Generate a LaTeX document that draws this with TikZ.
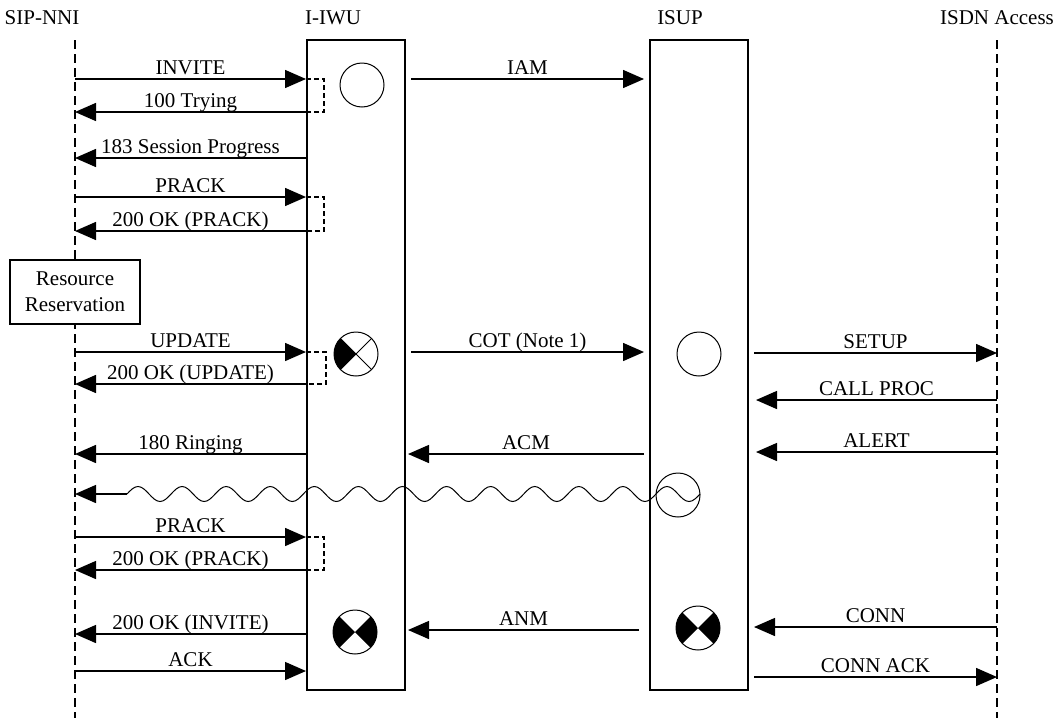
\documentclass[tikz,border=0pt]{standalone}
\usepackage{fontspec}
\setmainfont{Liberation Serif}
\usetikzlibrary{arrows.meta}
\begin{document}
\begin{tikzpicture}[x=1pt,y=-1pt,font=\fontsize{21}{26}\selectfont,
  life/.style={line width=1.5pt,dash pattern=on 9pt off 5pt},
  lane/.style={draw,line width=2pt,minimum width=98pt,minimum height=650pt,inner sep=0pt},
  msg/.style={line width=1.5pt,-{Triangle[length=21pt,width=18pt]}},
  lbl/.style={midway,anchor=base,yshift=5pt,inner sep=0pt},
  brk/.style={line width=1.5pt,dash pattern=on 5pt off 3pt},
  sym/.style={draw,circle,line width=1pt,minimum size=44pt,inner sep=0pt,fill=white},
  xhalf/.style={sym,path picture={
    \fill[black] (path picture bounding box.center) -- (path picture bounding box.north west) -- (path picture bounding box.south west) -- cycle;
    \draw[black] (path picture bounding box.north west) -- (path picture bounding box.south east)
          (path picture bounding box.south west) -- (path picture bounding box.north east);}},
  bowtie/.style={sym,path picture={
    \fill[black] (path picture bounding box.center) -- (path picture bounding box.north west) -- (path picture bounding box.south west) -- cycle
          (path picture bounding box.center) -- (path picture bounding box.north east) -- (path picture bounding box.south east) -- cycle;}}]
\useasboundingbox (0,0) rectangle (1062,718);

\node (hsip) at (42,18) {SIP-NNI};
\node (hiwu) at (333,18) {I-IWU};
\node (hisup) at (680,18) {ISUP};
\node (hisdn) at (997,18) {ISDN Access};

\coordinate (sip) at (75,40);
\coordinate (isdn) at (997,40);
\draw[life] (sip) -- (sip |- 0,718);
\draw[life] (isdn) -- (isdn |- 0,718);
\node[lane] (iwu) at (356,365) {};
\node[lane] (isup) at (699,365) {};
\node[draw,fill=white,line width=2pt,align=center,minimum width=130pt,minimum height=64pt,inner sep=0pt] (res) at (75,292) {Resource\\Reservation};

\draw[msg] (sip |- 0,79) -- (iwu.west |- 0,79) node[lbl] {INVITE};
\draw[msg] (iwu.west |- 0,112) -- (sip |- 0,112) node[lbl] {100 Trying};
\draw[brk] (iwu.west |- 0,79) -- ++(18,0) |- (iwu.west |- 0,112);
\draw[msg] (iwu.west |- 0,158) -- (sip |- 0,158) node[lbl] {183 Session Progress};
\draw[msg] (sip |- 0,197) -- (iwu.west |- 0,197) node[lbl] {PRACK};
\draw[msg] (iwu.west |- 0,231) -- (sip |- 0,231) node[lbl] {200 OK (PRACK)};
\draw[brk] (iwu.west |- 0,197) -- ++(18,0) |- (iwu.west |- 0,231);
\draw[msg] (sip |- 0,352) -- (iwu.west |- 0,352) node[lbl] {UPDATE};
\draw[msg] (iwu.west |- 0,384) -- (sip |- 0,384) node[lbl] {200 OK (UPDATE)};
\draw[brk] (iwu.west |- 0,352) -- ++(20,0) |- (iwu.west |- 0,384);
\draw[msg] (iwu.west |- 0,454) -- (sip |- 0,454) node[lbl] {180 Ringing};
\draw[msg] (sip |- 0,537) -- (iwu.west |- 0,537) node[lbl] {PRACK};
\draw[msg] (iwu.west |- 0,570) -- (sip |- 0,570) node[lbl] {200 OK (PRACK)};
\draw[brk] (iwu.west |- 0,537) -- ++(18,0) |- (iwu.west |- 0,570);
\draw[msg] (iwu.west |- 0,634) -- (sip |- 0,634) node[lbl] {200 OK (INVITE)};
\draw[msg] (sip |- 0,671) -- (iwu.west |- 0,671) node[lbl] {ACK};

\draw[msg] ([xshift=5pt]iwu.east |- 0,79) -- ([xshift=-5pt]isup.west |- 0,79) node[lbl] {IAM};
\draw[msg] ([xshift=5pt]iwu.east |- 0,352) -- ([xshift=-5pt]isup.west |- 0,352) node[lbl] {COT (Note 1)};
\draw[msg] ([xshift=-5pt]isup.west |- 0,454) -- ([xshift=2pt]iwu.east |- 0,454) node[lbl] {ACM};
\draw[msg] ([xshift=-10pt]isup.west |- 0,630) -- ([xshift=2pt]iwu.east |- 0,630) node[lbl] {ANM};

\draw[msg] ([xshift=5pt]isup.east |- 0,353) -- (isdn |- 0,353) node[lbl] {SETUP};
\draw[msg] (isdn |- 0,400) -- ([xshift=7pt]isup.east |- 0,400) node[lbl] {CALL PROC};
\draw[msg] (isdn |- 0,452) -- ([xshift=7pt]isup.east |- 0,452) node[lbl] {ALERT};
\draw[msg] (isdn |- 0,627) -- ([xshift=5pt]isup.east |- 0,627) node[lbl] {CONN};
\draw[msg] ([xshift=5pt]isup.east |- 0,677) -- (isdn |- 0,677) node[lbl] {CONN ACK};

\node[sym] (idle) at (362,85) {};
\node[xhalf] (through) at (356,354) {};
\node[sym] (seize) at (699,354) {};
\node[sym] (ring) at (678,495) {};
\node[bowtie] (ans1) at (355,632) {};
\node[bowtie] (ans2) at (698,628) {};

\coordinate (wv) at (127,494);
\draw[line width=1pt] (wv) \foreach \k in {1,...,13} {sin ++(11.02,-7.5) cos ++(11.02,7.5) sin ++(11.02,7.5) cos ++(11.02,-7.5)};
\draw[msg] (wv) -- (sip |- wv);
\end{tikzpicture}
\end{document}
